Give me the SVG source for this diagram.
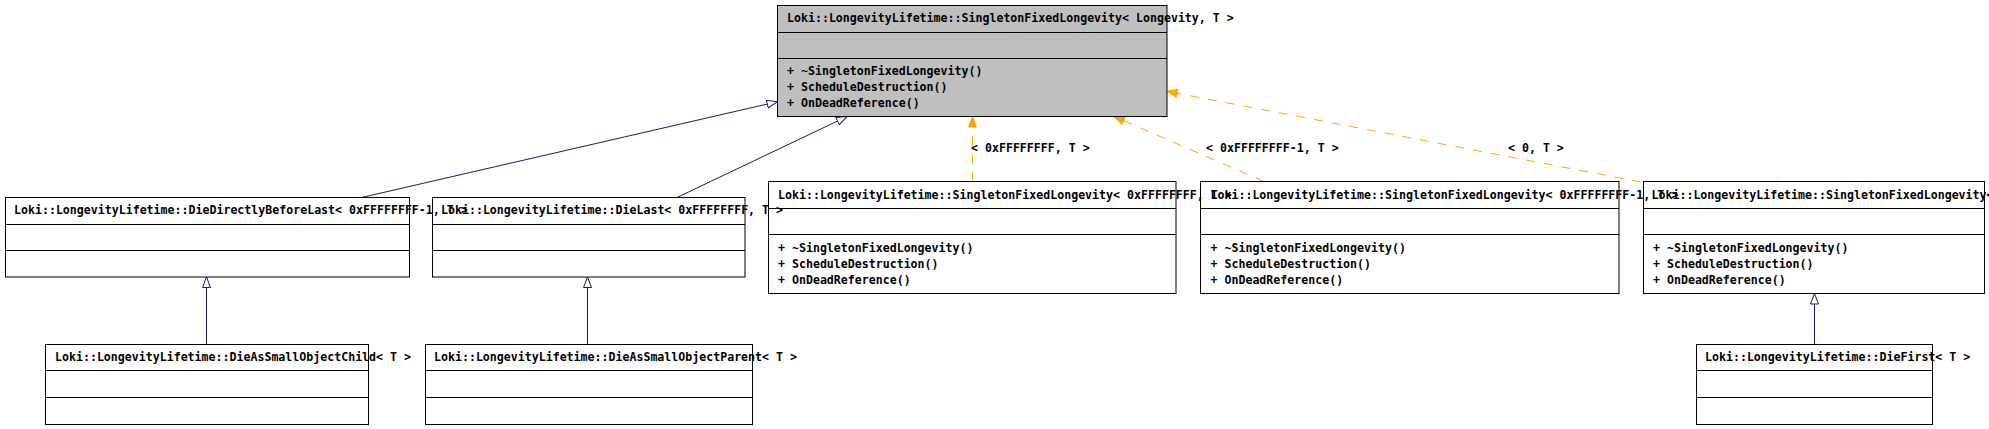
<svg xmlns="http://www.w3.org/2000/svg" width="1989" height="429" viewBox="0 0 1989 429">
<style>
text{font-family:"DejaVu Sans Mono","Liberation Mono",monospace;font-size:11.6px;font-weight:bold;fill:#000}
.box{fill:none;stroke:#000;stroke-width:1}
.gray{fill:#bfbfbf}
.sep{stroke:#000;stroke-width:1}
.inh{fill:none;stroke:#191970;stroke-width:1}
.tpl{fill:none;stroke:#ffa500;stroke-width:1;stroke-dasharray:9,9}
</style>
<defs>
<marker id="hollow" markerUnits="userSpaceOnUse" markerWidth="12" markerHeight="10" refX="11" refY="4.5" orient="auto" viewBox="0 0 12 10">
<path d="M0.5,0.5 L11,4.5 L0.5,8.5 Z" fill="#fff" stroke="#191970" stroke-width="1"/>
</marker>
<marker id="filled" markerUnits="userSpaceOnUse" markerWidth="12" markerHeight="10" refX="11" refY="4.5" orient="auto" viewBox="0 0 12 10">
<path d="M0.5,0.5 L11,4.5 L0.5,8.5 Z" fill="#ffa500" stroke="#ffa500" stroke-width="1"/>
</marker>
</defs>
<rect x="0" y="0" width="1989" height="429" fill="#fff"/>
<g id="connectors">
<line class="inh" x1="361.5" y1="197.5" x2="777.5" y2="101.7" marker-end="url(#hollow)"/>
<line class="inh" x1="677" y1="197.5" x2="847" y2="116.5" marker-end="url(#hollow)"/>
<line class="tpl" x1="972.5" y1="181.5" x2="972.5" y2="116.5" marker-end="url(#filled)"/>
<line class="tpl" x1="1264" y1="181.5" x2="1114" y2="116.5" marker-end="url(#filled)"/>
<line class="tpl" x1="1641" y1="182" x2="1167" y2="91.3" marker-end="url(#filled)"/>
<line class="inh" x1="206.5" y1="344.5" x2="206.5" y2="277" marker-end="url(#hollow)"/>
<line class="inh" x1="587.5" y1="344.5" x2="587.5" y2="277" marker-end="url(#hollow)"/>
<line class="inh" x1="1814.5" y1="344.5" x2="1814.5" y2="293.5" marker-end="url(#hollow)"/>
<text x="971" y="152">&lt; 0xFFFFFFFF, T &gt;</text>
<text x="1206" y="152">&lt; 0xFFFFFFFF-1, T &gt;</text>
<text x="1508" y="152">&lt; 0, T &gt;</text>
</g>
<g id="SingletonFixedLongevity">
<rect class="box gray" x="777.5" y="5.5" width="389.5" height="111"/>
<line class="sep" x1="777.5" y1="32.5" x2="1167" y2="32.5"/>
<line class="sep" x1="777.5" y1="58.5" x2="1167" y2="58.5"/>
<text x="787" y="22">Loki::LongevityLifetime::SingletonFixedLongevity&lt; Longevity, T &gt;</text>
<text x="787" y="75">+ ~SingletonFixedLongevity()</text>
<text x="787" y="91">+ ScheduleDestruction()</text>
<text x="787" y="107">+ OnDeadReference()</text>
</g>
<g id="DieDirectlyBeforeLast">
<rect class="box" x="5.5" y="197.5" width="404" height="79.5"/>
<line class="sep" x1="5.5" y1="224.5" x2="409.5" y2="224.5"/>
<line class="sep" x1="5.5" y1="250.5" x2="409.5" y2="250.5"/>
<text x="14" y="214">Loki::LongevityLifetime::DieDirectlyBeforeLast&lt; 0xFFFFFFFF-1, T &gt;</text>
</g>
<g id="DieLast">
<rect class="box" x="432.5" y="197.5" width="312.5" height="79.5"/>
<line class="sep" x1="432.5" y1="224.5" x2="745" y2="224.5"/>
<line class="sep" x1="432.5" y1="250.5" x2="745" y2="250.5"/>
<text x="441" y="214">Loki::LongevityLifetime::DieLast&lt; 0xFFFFFFFF, T &gt;</text>
</g>
<g id="SFL_FFFFFFFF">
<rect class="box" x="768.5" y="181.5" width="407.5" height="112"/>
<line class="sep" x1="768.5" y1="208.5" x2="1176" y2="208.5"/>
<line class="sep" x1="768.5" y1="234.5" x2="1176" y2="234.5"/>
<text x="778" y="198.5">Loki::LongevityLifetime::SingletonFixedLongevity&lt; 0xFFFFFFFF, T &gt;</text>
<text x="778" y="251.5">+ ~SingletonFixedLongevity()</text>
<text x="778" y="267.5">+ ScheduleDestruction()</text>
<text x="778" y="283.5">+ OnDeadReference()</text>
</g>
<g id="SFL_FFFFFFFF_1">
<rect class="box" x="1200.5" y="181.5" width="418.5" height="112"/>
<line class="sep" x1="1200.5" y1="208.5" x2="1619" y2="208.5"/>
<line class="sep" x1="1200.5" y1="234.5" x2="1619" y2="234.5"/>
<text x="1210.5" y="198.5">Loki::LongevityLifetime::SingletonFixedLongevity&lt; 0xFFFFFFFF-1, T &gt;</text>
<text x="1210.5" y="251.5">+ ~SingletonFixedLongevity()</text>
<text x="1210.5" y="267.5">+ ScheduleDestruction()</text>
<text x="1210.5" y="283.5">+ OnDeadReference()</text>
</g>
<g id="SFL_0">
<rect class="box" x="1643.5" y="181.5" width="341" height="112"/>
<line class="sep" x1="1643.5" y1="208.5" x2="1984.5" y2="208.5"/>
<line class="sep" x1="1643.5" y1="234.5" x2="1984.5" y2="234.5"/>
<text x="1651.5" y="198.5">Loki::LongevityLifetime::SingletonFixedLongevity&lt; 0, T &gt;</text>
<text x="1653" y="251.5">+ ~SingletonFixedLongevity()</text>
<text x="1653" y="267.5">+ ScheduleDestruction()</text>
<text x="1653" y="283.5">+ OnDeadReference()</text>
</g>
<g id="DieAsSmallObjectChild">
<rect class="box" x="45.5" y="344.5" width="323" height="80"/>
<line class="sep" x1="45.5" y1="370.5" x2="368.5" y2="370.5"/>
<line class="sep" x1="45.5" y1="397.5" x2="368.5" y2="397.5"/>
<text x="55" y="361">Loki::LongevityLifetime::DieAsSmallObjectChild&lt; T &gt;</text>
</g>
<g id="DieAsSmallObjectParent">
<rect class="box" x="425.5" y="344.5" width="327" height="80"/>
<line class="sep" x1="425.5" y1="370.5" x2="752.5" y2="370.5"/>
<line class="sep" x1="425.5" y1="397.5" x2="752.5" y2="397.5"/>
<text x="434" y="361">Loki::LongevityLifetime::DieAsSmallObjectParent&lt; T &gt;</text>
</g>
<g id="DieFirst">
<rect class="box" x="1696.5" y="344.5" width="236" height="80"/>
<line class="sep" x1="1696.5" y1="370.5" x2="1932.5" y2="370.5"/>
<line class="sep" x1="1696.5" y1="397.5" x2="1932.5" y2="397.5"/>
<text x="1705" y="361">Loki::LongevityLifetime::DieFirst&lt; T &gt;</text>
</g>
</svg>
